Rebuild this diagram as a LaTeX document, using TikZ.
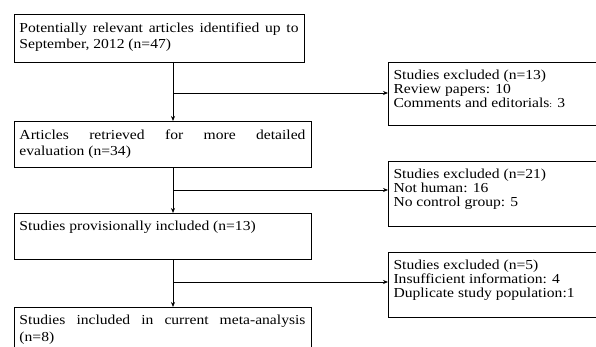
\documentclass[tikz,border=0pt]{standalone}
\usepackage{fontspec}
\setmainfont{Liberation Serif}
\usetikzlibrary{arrows.meta}

% text squashed a little in height, as in the figure
\newcommand{\flowtxt}[4]{\scalebox{1}[0.88]{\parbox[b][#2][t]{#1}{\fontsize{15.6}{#3}\selectfont\vspace*{9.5pt}#4}}}

\tikzset{
  box/.style={draw, line width=0.8pt, anchor=north west, inner xsep=5.5pt, inner ysep=0pt, outer sep=0pt},
  flow/.style={line width=0.8pt, -{Stealth[length=5pt,width=4pt]}},
}

\begin{document}
\begin{tikzpicture}[x=1pt, y=-1pt]
\useasboundingbox (0,0) rectangle (596,347);
\clip (0,0) rectangle (596,347);

\node[box] (found) at (14,14) {\flowtxt{279pt}{54.5pt}{18.8pt}{Potentially relevant articles identified up to September, 2012 (n=47)}};
\node[box] (retr) at (14,121) {\flowtxt{286pt}{52.3pt}{18.8pt}{Articles retrieved for more detailed\linebreak evaluation (n=34)}};
\node[box] (prov) at (14,213) {\flowtxt{286pt}{52.3pt}{18.8pt}{Studies provisionally included (n=13)}};
\node[box] (incl) at (14,307) {\flowtxt{286pt}{62pt}{18.8pt}{Studies included in current meta-analysis\linebreak (n=8)}};

\node[box] (exclA) at (388,62) {\flowtxt{210pt}{71.6pt}{15.9pt}{Studies excluded (n=13)\\Review papers: 10\\Comments and editorials{\fontsize{10}{10}\selectfont:} 3}};
\node[box] (exclB) at (388,161) {\flowtxt{210pt}{73.9pt}{15.9pt}{Studies excluded (n=21)\\Not human: 16\\No control group: 5}};
\node[box] (exclC) at (388,252) {\flowtxt{210pt}{73.9pt}{15.9pt}{Studies excluded (n=5)\\Insufficient information: 4\\Duplicate study population:1}};

% main line and side branches
\coordinate (b1) at (173,93);
\coordinate (b2) at (173,190);
\coordinate (b3) at (173,282);

\draw[flow] (found.south -| b1) -- (retr.north -| b1);
\draw[flow] (retr.south -| b1) -- (prov.north -| b1);
\draw[flow] (prov.south -| b1) -- (incl.north -| b1);

\draw[flow] (b1) -- (exclA.west |- b1);
\draw[flow] (b2) -- (exclB.west |- b2);
\draw[flow] (b3) -- (exclC.west |- b3);
\end{tikzpicture}
\end{document}
